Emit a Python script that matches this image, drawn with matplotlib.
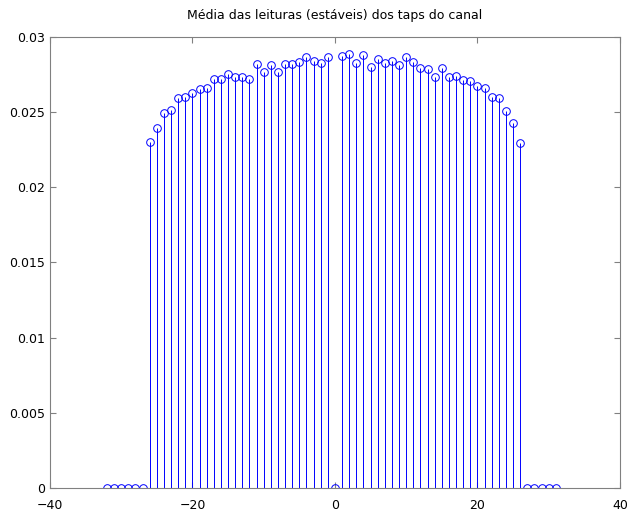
import numpy as np
import matplotlib
matplotlib.use('Agg')
import matplotlib.pyplot as plt

# tap indices -32..31, nulls at the edges and at DC
taps = np.arange(-32, 32)
left_vals = [0.0230, 0.02397, 0.02492, 0.02514, 0.02592, 0.02603, 0.02625,
             0.02652, 0.02663, 0.02721, 0.02721, 0.02752, 0.02736, 0.02736,
             0.02719, 0.0282, 0.02763, 0.02814, 0.02763, 0.0282, 0.0282,
             0.02836, 0.02865, 0.02842, 0.02829, 0.02869]
right_vals = [0.02873, 0.02886, 0.02829, 0.0288, 0.02802, 0.02851, 0.02829,
              0.02842, 0.02814, 0.02869, 0.02836, 0.02792, 0.02785, 0.02736,
              0.02796, 0.02736, 0.02743, 0.02714, 0.02707, 0.02674, 0.02663,
              0.02603, 0.02592, 0.02508, 0.02426, 0.02293]
values = [0.0] * 6 + left_vals + [0.0] + right_vals + [0.0] * 5

fig = plt.figure(figsize=(6.32, 5.12), dpi=100)
ax = fig.add_axes([0.079, 0.047, 0.902, 0.881])

ml, sl, bl = ax.stem(taps, values, basefmt=' ')
plt.setp(sl, color='blue', lw=0.7)
plt.setp(ml, markerfacecolor='none', markeredgecolor='blue', marker='o',
         markersize=5.5, markeredgewidth=0.7)

ax.set_xlim(-40, 40)
ax.set_ylim(0, 0.03)
ax.set_xticks([-40, -20, 0, 20, 40])
ax.set_yticks([0, 0.005, 0.01, 0.015, 0.02, 0.025, 0.03])
ax.set_yticklabels(['0', '0.005', '0.01', '0.015', '0.02', '0.025', '0.03'])
for s in ax.spines.values():
    s.set_color('0.5')
    s.set_linewidth(0.8)
ax.tick_params(direction='in', length=4, color='0.5', labelsize=9,
               top=True, right=True)
ax.tick_params(axis='x', pad=8)
ax.set_title('Média das leituras (estáveis) dos taps do canal', fontsize=9, pad=13)

fig.savefig('out.png', dpi=100)
